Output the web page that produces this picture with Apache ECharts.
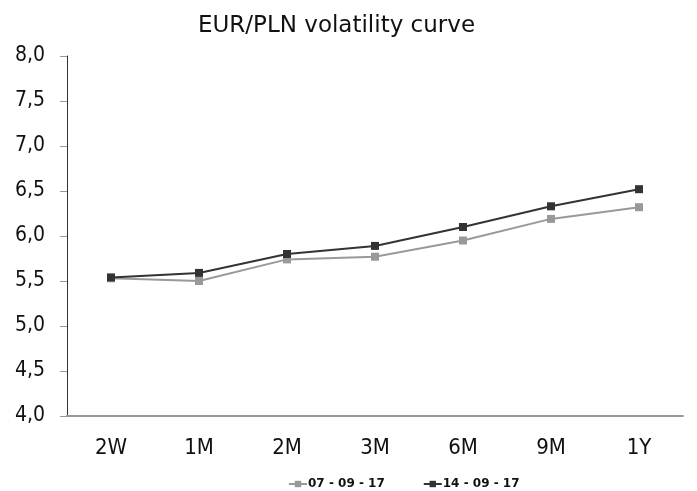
<!DOCTYPE html>
<html>
<head>
<meta charset="utf-8">
<script src="https://cdn.jsdelivr.net/npm/echarts@6/dist/echarts.min.js"></script>
<style>
  html, body { margin: 0; padding: 0; background: #fff; }
  #chart { width: 697px; height: 491px; }
</style>
</head>
<body>
<div id="chart"></div>
<script>
// Tenors along the curve
var tenors = ['2W', '1M', '2M', '3M', '6M', '9M', '1Y'];
// Implied volatility (%) for each fixing date
var vol_070917 = [5.53, 5.50, 5.74, 5.77, 5.95, 6.19, 6.32];
var vol_140917 = [5.54, 5.59, 5.80, 5.89, 6.10, 6.33, 6.52];
var seriesNames = ['07 - 09 - 17', '14 - 09 - 17'];

var font = 'Tahoma, "DejaVu Sans Condensed", "DejaVu Sans", sans-serif';
var titleFont = 'Verdana, "DejaVu Sans", sans-serif';
var chart = echarts.init(document.getElementById('chart'));

function lineSeries(name, data, color) {
  return {
    name: name,
    type: 'line',
    data: data,
    symbol: 'rect',
    symbolSize: 8,
    showAllSymbol: true,
    animation: false,
    lineStyle: { color: color, width: 2 },
    itemStyle: { color: color }
  };
}

chart.setOption({
  animation: false,
  title: {
    text: 'EUR/PLN volatility curve',
    left: 193,
    top: 10,
    textStyle: { fontFamily: titleFont, fontSize: 23, fontWeight: 'normal', color: '#111' }
  },
  legend: {
    top: 473,
    left: 283,
    itemGap: 38,
    itemWidth: 18,
    itemHeight: 8,
    textStyle: { fontFamily: titleFont, fontSize: 12, fontWeight: 'bold', color: '#111', padding: [0, 0, 0, -4] },
    data: seriesNames
  },
  grid: { left: 67, right: 14, top: 56, bottom: 75 },
  xAxis: {
    type: 'category',
    data: tenors,
    boundaryGap: true,
    axisLine: { lineStyle: { color: '#999', width: 2 } },
    axisTick: { show: false },
    axisLabel: { fontFamily: font, fontSize: 22, color: '#111', margin: 21 }
  },
  yAxis: {
    type: 'value',
    min: 4,
    max: 8,
    interval: 0.5,
    axisLine: { show: true, lineStyle: { color: '#333', width: 1 } },
    axisTick: { show: true, length: 7, lineStyle: { color: '#999' } },
    splitLine: { show: false },
    axisLabel: {
      fontFamily: font, fontSize: 21, color: '#111', margin: 22,
      formatter: function (v) { return v.toFixed(1).replace('.', ','); }
    }
  },
  series: [
    lineSeries(seriesNames[0], vol_070917, '#999999'),
    lineSeries(seriesNames[1], vol_140917, '#333333')
  ]
});
</script>
</body>
</html>
